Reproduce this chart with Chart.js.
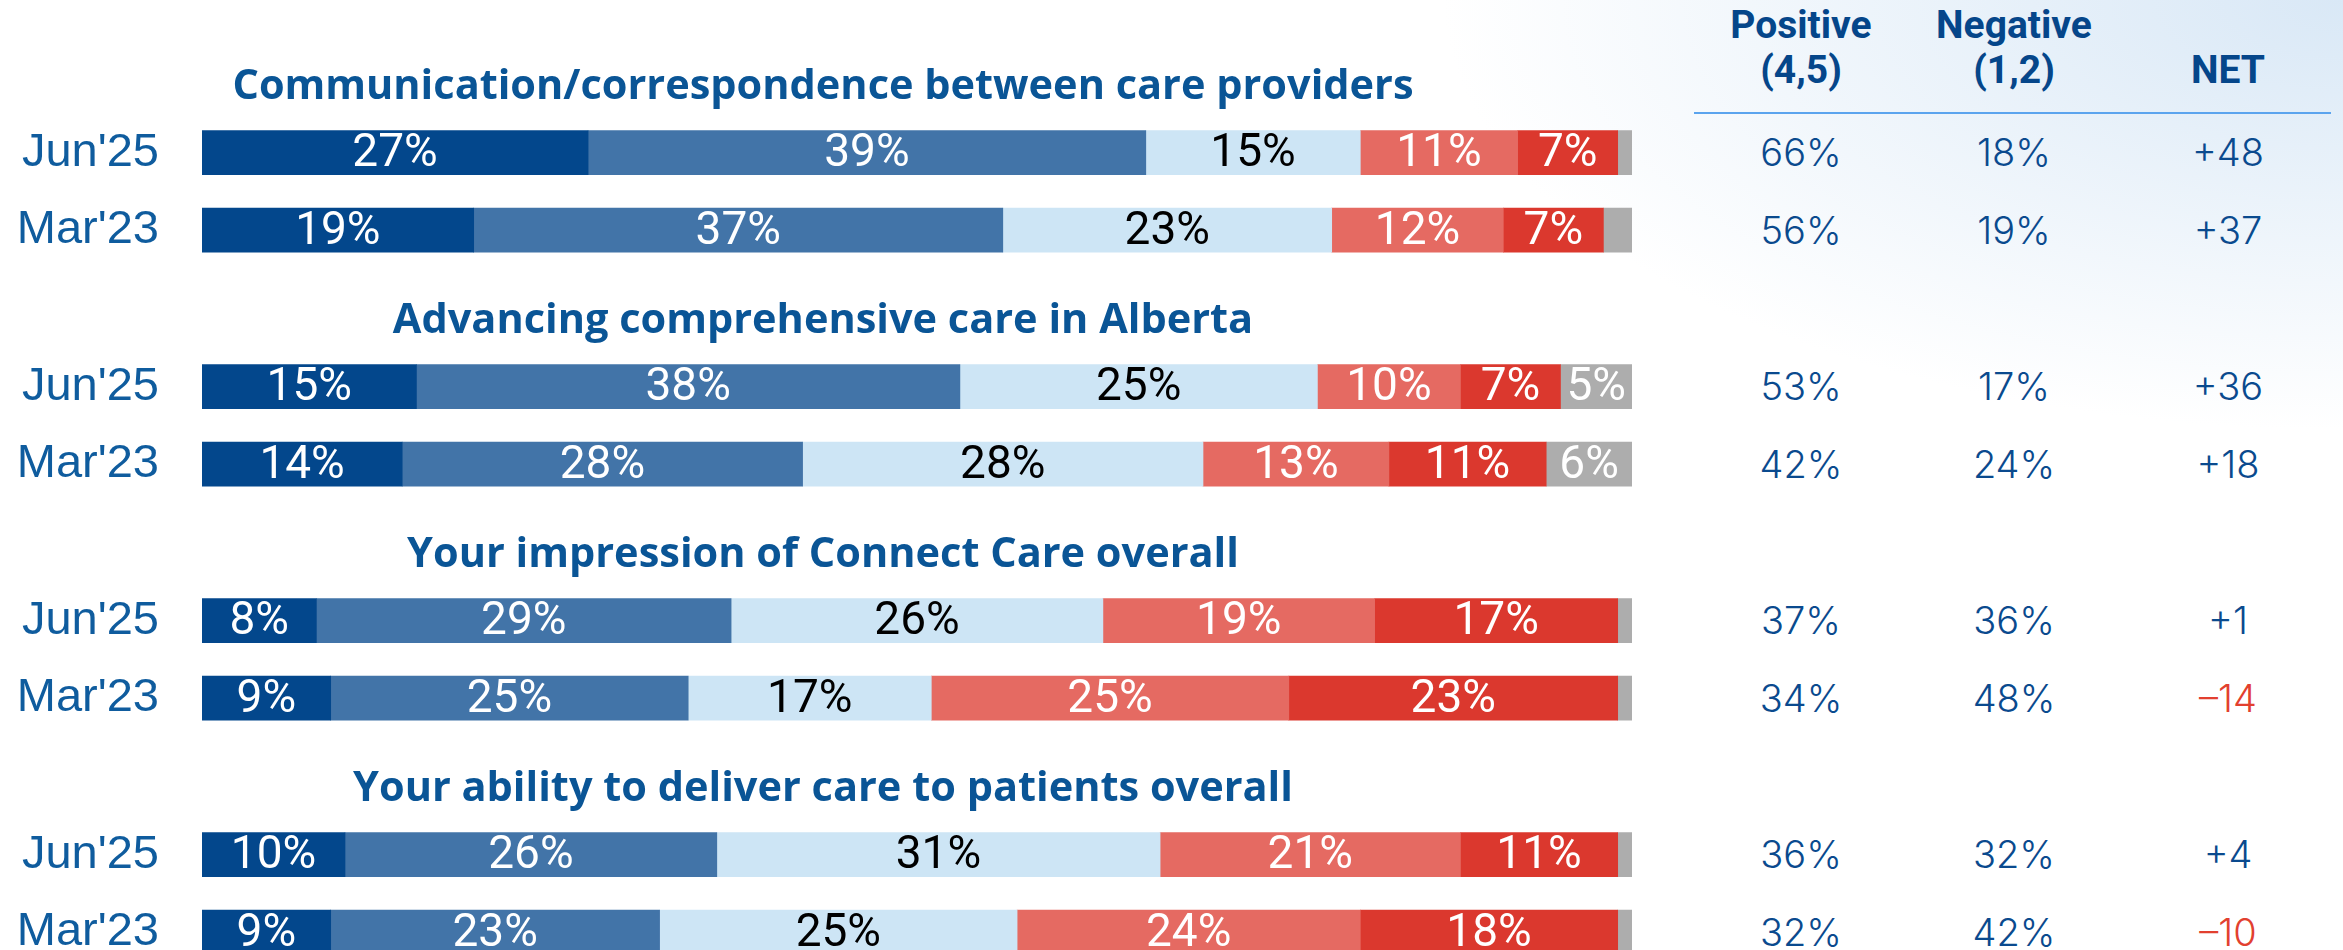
<!DOCTYPE html>
<html>
<head>
<meta charset="utf-8">
<title>Connect Care ratings</title>
<script src="https://cdn.jsdelivr.net/npm/chart.js@4.4.1/dist/chart.umd.min.js"></script>
<style>
  html, body { margin: 0; padding: 0; }
  body {
    width: 2343px; height: 950px; overflow: hidden; position: relative;
    background: radial-gradient(ellipse 900px 430px at 100% 0%, #d9e8f6 0%, rgba(255,255,255,0) 100%), #ffffff;
  }
  .grp { position: absolute; left: 0; width: 1646px; height: 234px; }
  .grp canvas { display: block; }
  .cell {
    position: absolute; transform: translate(-50%, -50%); white-space: nowrap;
    font-family: Inter, "Noto Sans", sans-serif; font-weight: 300; font-size: 38px; color: #0a4a8e;
  }
  .head {
    position: absolute; transform: translateX(-50%); text-align: center; white-space: nowrap;
    font-family: Roboto, "Liberation Sans", sans-serif; font-weight: 700; font-size: 39px;
    line-height: 45px; color: #05468a;
  }
  #rule { position: absolute; left: 1694px; top: 112px; width: 637px; height: 2px; background: #5ba4ee; }
</style>
</head>
<body>
<div id="table"></div>
<div id="rule"></div>

<script>
/* ---------- data (reading order: group 1 Jun'25, group 1 Mar'23, group 2 ...) ---------- */
const TITLES = [
  'Communication/correspondence between care providers',
  'Advancing comprehensive care in Alberta',
  'Your impression of Connect Care overall',
  'Your ability to deliver care to patients overall',
];
const PERIODS = ["Jun'25", "Mar'23"];

const score5   = [27, 19, 15, 14,  8,  9, 10,  9];
const score4   = [39, 37, 38, 28, 29, 25, 26, 23];
const score3   = [15, 23, 25, 28, 26, 17, 31, 25];
const score2   = [11, 12, 10, 13, 19, 25, 21, 24];
const score1   = [ 7,  7,  7, 11, 17, 23, 11, 18];
const noAnswer = [ 1,  2,  5,  6,  1,  1,  1,  1];

const positive = [66, 56, 53, 42, 37, 34, 36, 32];
const negative = [18, 19, 17, 24, 36, 48, 32, 42];
const net      = [48, 37, 36, 18,  1, -14, 4, -10];

const HEADERS = ['Positive<br>(4,5)', 'Negative<br>(1,2)', 'NET'];

/* ---------- style ---------- */
const SERIES = [
  { name: '5',   data: score5,   color: '#03478c', text: '#ffffff' },
  { name: '4',   data: score4,   color: '#4274a8', text: '#ffffff' },
  { name: '3',   data: score3,   color: '#cde5f5', text: '#000000' },
  { name: '2',   data: score2,   color: '#e56a62', text: '#ffffff' },
  { name: '1',   data: score1,   color: '#db382e', text: '#ffffff' },
  { name: 'n/a', data: noAnswer, color: '#adadad', text: '#ffffff' },
];
const GROUP_PITCH = 234;
const ROW_PITCH   = 78;
const FIRST_ROW_Y = 152;
const COL_X       = [1801, 2014, 2228];

/* ---------- labels inside the bars ---------- */
const barLabels = {
  id: 'barLabels',
  afterDatasetsDraw(chart) {
    const ctx = chart.ctx;
    ctx.save();
    ctx.font = '400 46px Roboto, "Noto Sans", sans-serif';
    ctx.textAlign = 'center';
    ctx.textBaseline = 'middle';
    chart.data.datasets.forEach((ds, di) => {
      chart.getDatasetMeta(di).data.forEach((bar, i) => {
        const v = ds.data[i];
        if (v < 3) return;
        const p = bar.getCenterPoint();
        ctx.fillStyle = SERIES[di].text;
        ctx.fillText(v + '%', p.x, p.y + 2);
      });
    });
    ctx.restore();
  },
};

/* ---------- one chart per question ---------- */
TITLES.forEach((title, g) => {
  const box = document.createElement('div');
  box.className = 'grp';
  box.style.top = (GROUP_PITCH * g + 35) + 'px';
  const canvas = document.createElement('canvas');
  canvas.width = 1646;
  canvas.height = 234;
  box.appendChild(canvas);
  document.body.appendChild(box);

  new Chart(canvas.getContext('2d'), {
    type: 'bar',
    data: {
      labels: PERIODS,
      datasets: SERIES.map(s => ({
        label: s.name,
        data: s.data.slice(g * 2, g * 2 + 2),
        backgroundColor: s.color,
        borderWidth: 0,
        barThickness: 44,
      })),
    },
    options: {
      indexAxis: 'y',
      responsive: false,
      animation: false,
      devicePixelRatio: 1,
      layout: { padding: 0 },
      plugins: {
        legend: { display: false },
        tooltip: { enabled: false },
        title: {
          display: true,
          text: title,
          color: '#0a5596',
          font: { family: "'Open Sans', sans-serif", size: 41.5, weight: 'bold' },
          padding: { top: 27, bottom: 2 },
        },
      },
      scales: {
        x: { stacked: true, min: 0, max: 100, display: false },
        y: {
          stacked: true,
          grid: { display: false, drawTicks: false },
          border: { display: false },
          ticks: {
            color: '#0f5c9e',
            padding: 43,
            font: { family: "'Liberation Sans', Arial, sans-serif", size: 47 },
          },
          afterFit: scale => {
            scale.width = 202;
            scale.paddingTop = 0;
            scale.paddingBottom = 0;
          },
        },
        // empty strip on the right so the bars stop short of the canvas edge
        yRight: {
          type: 'category',
          position: 'right',
          grid: { display: false, drawTicks: false },
          border: { display: false },
          ticks: { display: false },
          afterFit: scale => {
            scale.width = 14;
            scale.paddingTop = 0;
            scale.paddingBottom = 0;
          },
        },
      },
    },
    plugins: [barLabels],
  });
});

/* ---------- right-hand table ---------- */
const table = document.getElementById('table');
HEADERS.forEach((h, c) => {
  const d = document.createElement('div');
  d.className = 'head';
  d.style.left = COL_X[c] + 'px';
  d.style.top = (c === 2 ? 48 : 3) + 'px';
  d.innerHTML = h;
  table.appendChild(d);
});
positive.forEach((p, i) => {
  const y = FIRST_ROW_Y + GROUP_PITCH * Math.floor(i / 2) + ROW_PITCH * (i % 2);
  const n = net[i];
  const cells = [
    { t: p + '%', c: '#0a4a8e' },
    { t: negative[i] + '%', c: '#0a4a8e' },
    { t: n < 0 ? '\u2013' + Math.abs(n) : '+' + n, c: n < 0 ? '#e2402f' : '#0a4a8e' },
  ];
  cells.forEach((cell, c) => {
    const d = document.createElement('div');
    d.className = 'cell';
    d.style.left = COL_X[c] + 'px';
    d.style.top = y + 'px';
    d.style.color = cell.c;
    d.textContent = cell.t;
    table.appendChild(d);
  });
});
</script>
</body>
</html>
